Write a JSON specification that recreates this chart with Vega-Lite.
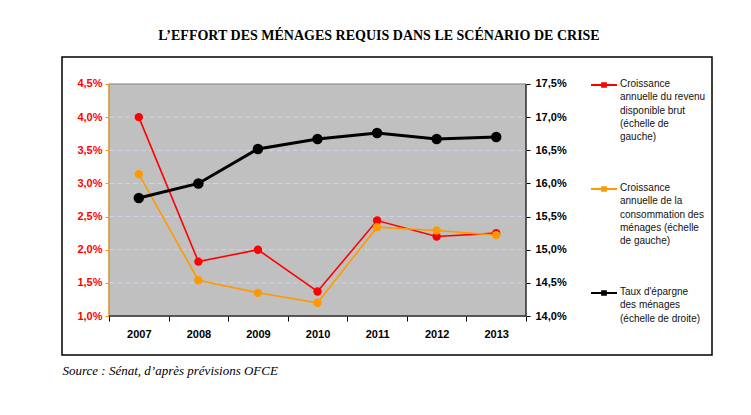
{
  "$schema": "https://vega.github.io/schema/vega-lite/v6.json",
  "width": 650,
  "height": 298,
  "autosize": {"type": "none"},
  "padding": {"top": 57, "left": 62, "right": 39, "bottom": 60},
  "background": "white",
  "title": {
    "text": "L’EFFORT DES MÉNAGES REQUIS DANS LE SCÉNARIO DE CRISE",
    "font": "Liberation Serif",
    "fontSize": 14,
    "fontWeight": "bold",
    "color": "#000000",
    "anchor": "middle",
    "dx": -8,
    "offset": 14
  },
  "config": {
    "view": {"stroke": "#000000", "strokeWidth": 1.5, "fill": "white"}
  },
  "datasets": {
    "left": [
      {"year": 2007, "series": "Croissance annuelle du revenu disponible brut (échelle de gauche)", "value": 4.0},
      {"year": 2008, "series": "Croissance annuelle du revenu disponible brut (échelle de gauche)", "value": 1.82},
      {"year": 2009, "series": "Croissance annuelle du revenu disponible brut (échelle de gauche)", "value": 2.0},
      {"year": 2010, "series": "Croissance annuelle du revenu disponible brut (échelle de gauche)", "value": 1.37},
      {"year": 2011, "series": "Croissance annuelle du revenu disponible brut (échelle de gauche)", "value": 2.44},
      {"year": 2012, "series": "Croissance annuelle du revenu disponible brut (échelle de gauche)", "value": 2.2},
      {"year": 2013, "series": "Croissance annuelle du revenu disponible brut (échelle de gauche)", "value": 2.25},
      {"year": 2007, "series": "Croissance annuelle de la consommation des ménages (échelle de gauche)", "value": 3.14},
      {"year": 2008, "series": "Croissance annuelle de la consommation des ménages (échelle de gauche)", "value": 1.54},
      {"year": 2009, "series": "Croissance annuelle de la consommation des ménages (échelle de gauche)", "value": 1.35},
      {"year": 2010, "series": "Croissance annuelle de la consommation des ménages (échelle de gauche)", "value": 1.2},
      {"year": 2011, "series": "Croissance annuelle de la consommation des ménages (échelle de gauche)", "value": 2.34},
      {"year": 2012, "series": "Croissance annuelle de la consommation des ménages (échelle de gauche)", "value": 2.29},
      {"year": 2013, "series": "Croissance annuelle de la consommation des ménages (échelle de gauche)", "value": 2.22}
    ],
    "right": [
      {"year": 2007, "series": "Taux d'épargne des ménages (échelle de droite)", "value": 15.78},
      {"year": 2008, "series": "Taux d'épargne des ménages (échelle de droite)", "value": 16.0},
      {"year": 2009, "series": "Taux d'épargne des ménages (échelle de droite)", "value": 16.52},
      {"year": 2010, "series": "Taux d'épargne des ménages (échelle de droite)", "value": 16.67},
      {"year": 2011, "series": "Taux d'épargne des ménages (échelle de droite)", "value": 16.76},
      {"year": 2012, "series": "Taux d'épargne des ménages (échelle de droite)", "value": 16.67},
      {"year": 2013, "series": "Taux d'épargne des ménages (échelle de droite)", "value": 16.7}
    ],
    "grid": [{"v": 1.5}, {"v": 2.0}, {"v": 2.5}, {"v": 3.0}, {"v": 3.5}, {"v": 4.0}]
  },
  "resolve": {"scale": {"y": "independent"}, "axis": {"y": "independent"}},
  "layer": [
    {
      "layer": [
        {
          "data": {"name": "left"},
          "mark": {"type": "line", "strokeWidth": 0, "opacity": 0},
          "encoding": {
            "x": {
              "field": "year", "type": "quantitative",
              "scale": {"domain": [2005.711, 2016.622], "nice": false, "zero": false},
              "axis": {
                "orient": "bottom", "offset": -39,
                "values": [2006.5, 2007.5, 2008.5, 2009.5, 2010.5, 2011.5, 2012.5, 2013.5],
                "labelExpr": "datum.value < 2013 ? format(datum.value + 0.5, 'd') : ''",
                "labelOffset": 29.8, "labelAlign": "center", "labelPadding": 7,
                "labelFont": "Liberation Sans", "labelFontSize": 11, "labelFontWeight": "bold", "labelColor": "#000000",
                "domain": false, "grid": false, "ticks": true, "tickColor": "#000000", "tickSize": 5, "tickWidth": 1,
                "labelOverlap": false, "labelFlush": false, "labelBound": false,
                "title": "Source : Sénat, d’après prévisions OFCE",
                "titleFont": "Liberation Serif", "titleFontStyle": "italic", "titleFontWeight": "normal", "titleFontSize": 13,
                "titleColor": "#000000", "titleAnchor": "start", "titleAlign": "left", "titleX": 0, "titleY": 54, "titleBaseline": "middle"
              }
            },
            "y": {
              "field": "value", "type": "quantitative",
              "scale": {"domain": [0.412, 4.907], "nice": false, "zero": false},
              "axis": {
                "orient": "left", "offset": -47,
                "values": [1, 1.5, 2, 2.5, 3, 3.5, 4, 4.5],
                "labelExpr": "replace(format(datum.value, '.1f'), '.', ',') + '%'",
                "labelFont": "Liberation Sans", "labelFontSize": 11, "labelFontWeight": "bold", "labelColor": "#FF0000",
                "labelPadding": 3, "labelOverlap": false, "labelFlush": false, "labelBound": false,
                "domain": false, "grid": false, "tickColor": "#FF9900", "tickSize": 4, "tickWidth": 1,
                "title": null
              }
            }
          }
        },
        {
          "data": {"values": [{}]},
          "mark": {"type": "rect", "fill": "#C0C0C0", "stroke": "#808080", "strokeWidth": 1},
          "encoding": {
            "x": {"datum": 2006.5, "type": "quantitative"},
            "x2": {"datum": 2013.5},
            "y": {"datum": 1, "type": "quantitative"},
            "y2": {"datum": 4.5}
          }
        },
        {
          "data": {"name": "grid"},
          "mark": {"type": "rule", "stroke": "#D2D2F2", "strokeWidth": 1, "strokeDash": [5, 3]},
          "encoding": {
            "x": {"datum": 2006.5, "type": "quantitative"},
            "x2": {"datum": 2013.5},
            "y": {"field": "v", "type": "quantitative"}
          }
        },
        {
          "data": {"values": [{}]},
          "mark": {"type": "rule", "stroke": "#FF9900", "strokeWidth": 1},
          "encoding": {
            "x": {"datum": 2006.5, "type": "quantitative"},
            "y": {"datum": 1, "type": "quantitative"},
            "y2": {"datum": 4.5}
          }
        },
        {
          "data": {"values": [{}]},
          "mark": {"type": "rule", "stroke": "#000000", "strokeWidth": 1},
          "encoding": {
            "x": {"datum": 2013.5, "type": "quantitative"},
            "y": {"datum": 1, "type": "quantitative"},
            "y2": {"datum": 4.5}
          }
        },
        {
          "data": {"values": [{}]},
          "mark": {"type": "rule", "stroke": "#000000", "strokeWidth": 1},
          "encoding": {
            "x": {"datum": 2006.5, "type": "quantitative"},
            "x2": {"datum": 2013.5},
            "y": {"datum": 1, "type": "quantitative"}
          }
        },
        {
          "data": {"name": "left"},
          "mark": {"type": "line", "strokeWidth": 1.6, "point": {"filled": true, "size": 70, "opacity": 1}},
          "encoding": {
            "x": {"field": "year", "type": "quantitative"},
            "y": {"field": "value", "type": "quantitative"},
            "color": {
              "field": "series", "type": "nominal",
              "scale": {
                "domain": [
                  "Croissance annuelle du revenu disponible brut (échelle de gauche)",
                  "Croissance annuelle de la consommation des ménages (échelle de gauche)",
                  "Taux d'épargne des ménages (échelle de droite)"
                ],
                "range": ["#FF0000", "#FF9900", "#000000"]
              },
              "legend": {
                "orient": "none", "legendX": 529, "legendY": 15,
                "title": null,
                "symbolType": "M-1,-0.08H1V0.08H-1Z M-0.22,-0.22H0.22V0.22H-0.22Z",
                "symbolSize": 676, "symbolStrokeWidth": 0,
                "labelFont": "Liberation Sans", "labelFontSize": 10, "labelColor": "#111111",
                "labelBaseline": "top", "labelOffset": 3, "labelLimit": 250,
                "rowPadding": 33,
                "labelExpr": "indexof(datum.label, 'revenu') >= 0 ? ['Croissance', 'annuelle du revenu', 'disponible brut', '(échelle de', 'gauche)'] : indexof(datum.label, 'consommation') >= 0 ? ['Croissance', 'annuelle de la', 'consommation des', 'ménages (échelle', 'de gauche)'] : ['Taux d\\'épargne', 'des ménages', '(échelle de droite)']",
                "encode": {
                  "symbols": {"update": {"fill": {"scale": "color", "field": "value"}, "strokeWidth": {"value": 0}}},
                  "labels": {"update": {"dy": {"value": -6}, "lineHeight": {"value": 13.3}}}
                }
              }
            }
          }
        }
      ]
    },
    {
      "data": {"name": "right"},
      "mark": {"type": "line", "strokeWidth": 3, "point": {"filled": true, "size": 110, "opacity": 1}},
      "encoding": {
        "x": {"field": "year", "type": "quantitative"},
        "y": {
          "field": "value", "type": "quantitative",
          "scale": {"domain": [13.412, 17.907], "nice": false, "zero": false},
          "axis": {
            "orient": "right", "offset": -186,
            "values": [14, 14.5, 15, 15.5, 16, 16.5, 17, 17.5],
            "labelExpr": "replace(format(datum.value, '.1f'), '.', ',') + '%'",
            "labelFont": "Liberation Sans", "labelFontSize": 11, "labelFontWeight": "bold", "labelColor": "#000000",
            "labelPadding": 5, "labelOverlap": false, "labelFlush": false, "labelBound": false,
            "domain": false, "grid": false, "tickColor": "#000000", "tickSize": 4, "tickWidth": 1,
            "title": null
          }
        },
        "color": {"field": "series", "type": "nominal"}
      }
    }
  ]
}
